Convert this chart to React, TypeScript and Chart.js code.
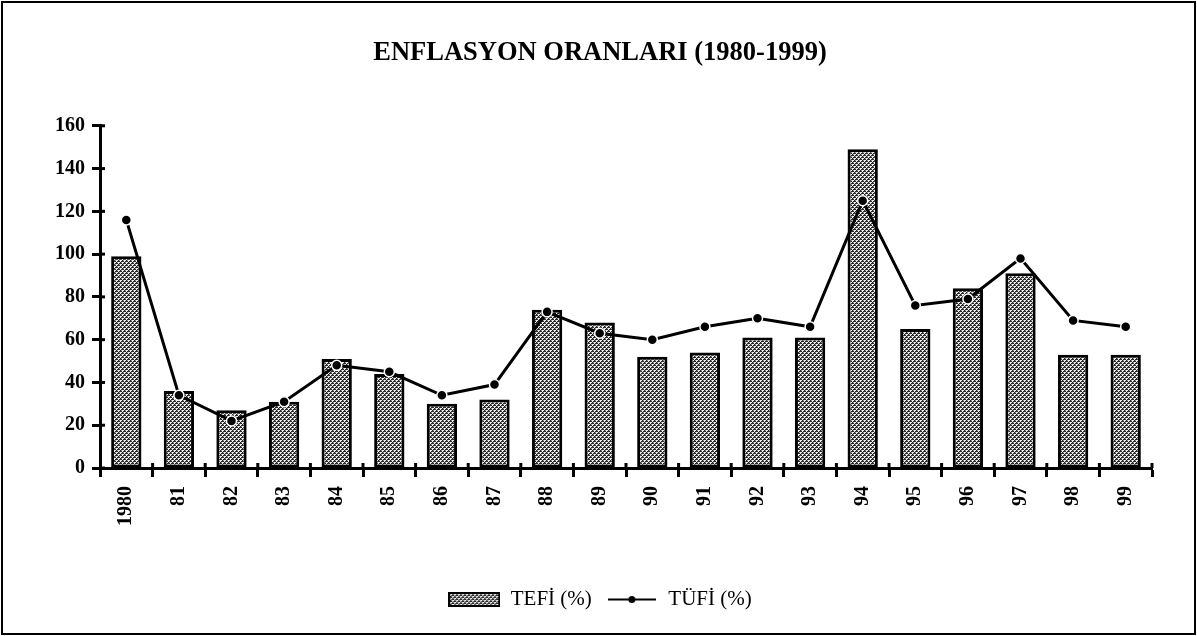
import React, { useEffect, useRef } from "react";
import { Chart, registerables } from "chart.js";

Chart.register(...registerables);

const titleText = "ENFLASYON ORANLARI (1980-1999)";
const years = ["1980", "81", "82", "83", "84", "85", "86", "87", "88", "89", "90", "91", "92", "93", "94", "95", "96", "97", "98", "99"];
const tefe = [99, 36, 27, 31, 51, 44, 30, 32, 74, 68, 52, 54, 61, 61, 149, 65, 84, 91, 53, 53];
const tufe = [116, 34, 22, 31, 48, 45, 34, 39, 73, 63, 60, 66, 70, 66, 125, 76, 79, 98, 69, 66];
const seriesNames = ["TEFİ (%)", "TÜFİ (%)"];
const yMin = 0;
const yMax = 160;
const yStep = 20;

const SERIF = '"Liberation Serif", "Times New Roman", serif';

function makePattern(): CanvasPattern | string {
  const c = document.createElement("canvas");
  c.width = 4;
  c.height = 4;
  const g = c.getContext("2d");
  if (!g) return "#888";
  g.fillStyle = "#2a2a2a";
  g.fillRect(0, 0, 4, 4);
  g.fillStyle = "#efefef";
  const light = [
    [0, 0], [1, 0], [0, 1],
    [2, 2], [3, 2], [2, 3],
  ];
  light.forEach(([x, y]) => g.fillRect(x, y, 1, 1));
  g.fillStyle = "#9a9a9a";
  [[3, 0], [1, 2]].forEach(([x, y]) => g.fillRect(x, y, 1, 1));
  const p = g.createPattern(c, "repeat");
  return p || "#888";
}

function makeBarSymbol(fill: CanvasPattern | string): HTMLCanvasElement {
  const c = document.createElement("canvas");
  c.width = 52;
  c.height = 15;
  const g = c.getContext("2d")!;
  g.fillStyle = fill as any;
  g.fillRect(0, 0, 52, 15);
  g.strokeStyle = "#000";
  g.lineWidth = 2;
  g.strokeRect(1, 1, 50, 13);
  return c;
}

function makeLineSymbol(): HTMLCanvasElement {
  const c = document.createElement("canvas");
  c.width = 48;
  c.height = 15;
  const g = c.getContext("2d")!;
  g.strokeStyle = "#000";
  g.lineWidth = 2;
  g.beginPath();
  g.moveTo(0, 7.5);
  g.lineTo(48, 7.5);
  g.stroke();
  g.fillStyle = "#000";
  g.beginPath();
  g.arc(24, 7.5, 3.5, 0, Math.PI * 2);
  g.fill();
  return c;
}

const crossTicks = {
  id: "crossTicks",
  afterDraw(chart: any) {
    const { ctx, chartArea } = chart;
    const x = chart.scales.x;
    const y = chart.scales.y;
    ctx.save();
    ctx.strokeStyle = "#000";
    ctx.lineWidth = 3;
    y.ticks.forEach((_t: any, i: number) => {
      const py = y.getPixelForTick(i);
      ctx.beginPath();
      ctx.moveTo(chartArea.left, py);
      ctx.lineTo(chartArea.left + 5, py);
      ctx.stroke();
    });
    const n = years.length;
    for (let i = 1; i <= n; i++) {
      const px = x.left + (i * (x.right - x.left)) / n;
      ctx.beginPath();
      ctx.moveTo(px, chartArea.bottom);
      ctx.lineTo(px, chartArea.bottom - 5);
      ctx.stroke();
    }
    ctx.restore();
  },
};

export default function App() {
  const ref = useRef<HTMLCanvasElement | null>(null);

  useEffect(() => {
    if (!ref.current) return;
    const pattern = makePattern();
    const barSym = makeBarSymbol(pattern);
    const lineSym = makeLineSymbol();

    const chart = new Chart(ref.current, {
      type: "bar",
      data: {
        labels: years,
        datasets: [
          {
            type: "bar",
            label: seriesNames[0],
            data: tefe,
            backgroundColor: pattern as any,
            borderColor: "#000",
            borderWidth: 3,
            borderSkipped: false,
            barPercentage: 0.6,
            categoryPercentage: 0.96,
            order: 2,
          },
          {
            type: "line",
            label: seriesNames[1],
            data: tufe,
            borderColor: "#000",
            borderWidth: 3,
            tension: 0,
            pointRadius: 5,
            pointBackgroundColor: "#000",
            pointBorderColor: "#fff",
            pointBorderWidth: 1.5,
            order: 1,
          } as any,
        ],
      },
      options: {
        responsive: false,
        animation: false,
        devicePixelRatio: 1,
        layout: { padding: { left: 48, right: 45, top: 0, bottom: 16 } },
        plugins: {
          title: {
            display: true,
            text: titleText,
            color: "#000",
            font: { family: SERIF, size: 26.5, weight: "bold", lineHeight: 1.2 },
            padding: { top: 37, bottom: 57 },
          },
          legend: {
            display: true,
            position: "bottom",
            labels: {
              usePointStyle: true,
              pointStyleWidth: 52,
              padding: 14,
              color: "#000",
              font: { family: SERIF, size: 21 },
              generateLabels: () => [
                { text: seriesNames[0], pointStyle: barSym as any, fillStyle: "#000", strokeStyle: "#000", lineWidth: 0, datasetIndex: 0, hidden: false } as any,
                { text: seriesNames[1], pointStyle: lineSym as any, fillStyle: "#000", strokeStyle: "#000", lineWidth: 0, datasetIndex: 1, hidden: false } as any,
              ],
            },
          },
          tooltip: { enabled: false },
        },
        scales: {
          x: {
            offset: true,
            grid: {
              offset: true,
              drawOnChartArea: false,
              drawTicks: true,
              tickLength: 9,
              tickWidth: 3,
              tickColor: "#000",
            },
            border: { display: true, color: "#000", width: 3 },
            ticks: {
              color: "#000",
              font: { family: SERIF, size: 20, weight: "bold" },
              maxRotation: 90,
              minRotation: 90,
              padding: 9,
              autoSkip: false,
            },
            afterFit: (scale: any) => {
              scale.height = 107;
            },
          },
          y: {
            min: yMin,
            max: yMax,
            grid: {
              drawOnChartArea: false,
              drawTicks: true,
              tickLength: 8,
              tickWidth: 3,
              tickColor: "#000",
            },
            border: { display: true, color: "#000", width: 3 },
            ticks: {
              stepSize: yStep,
              color: "#000",
              font: { family: SERIF, size: 20, weight: "bold" },
              padding: 7,
            },
          },
        },
      },
      plugins: [crossTicks],
    });

    return () => chart.destroy();
  }, []);

  return (
    <div style={{ position: "absolute", left: 0, top: 0, width: 1197, height: 636, background: "#fff" }}>
      <canvas ref={ref} width={1197} height={636} style={{ position: "absolute", left: 0, top: 0, width: 1197, height: 636 }} />
      <div
        style={{
          position: "absolute",
          left: 1,
          top: 1,
          width: 1195,
          height: 634,
          border: "2px solid #000",
          boxSizing: "border-box",
          pointerEvents: "none",
        }}
      />
    </div>
  );
}
